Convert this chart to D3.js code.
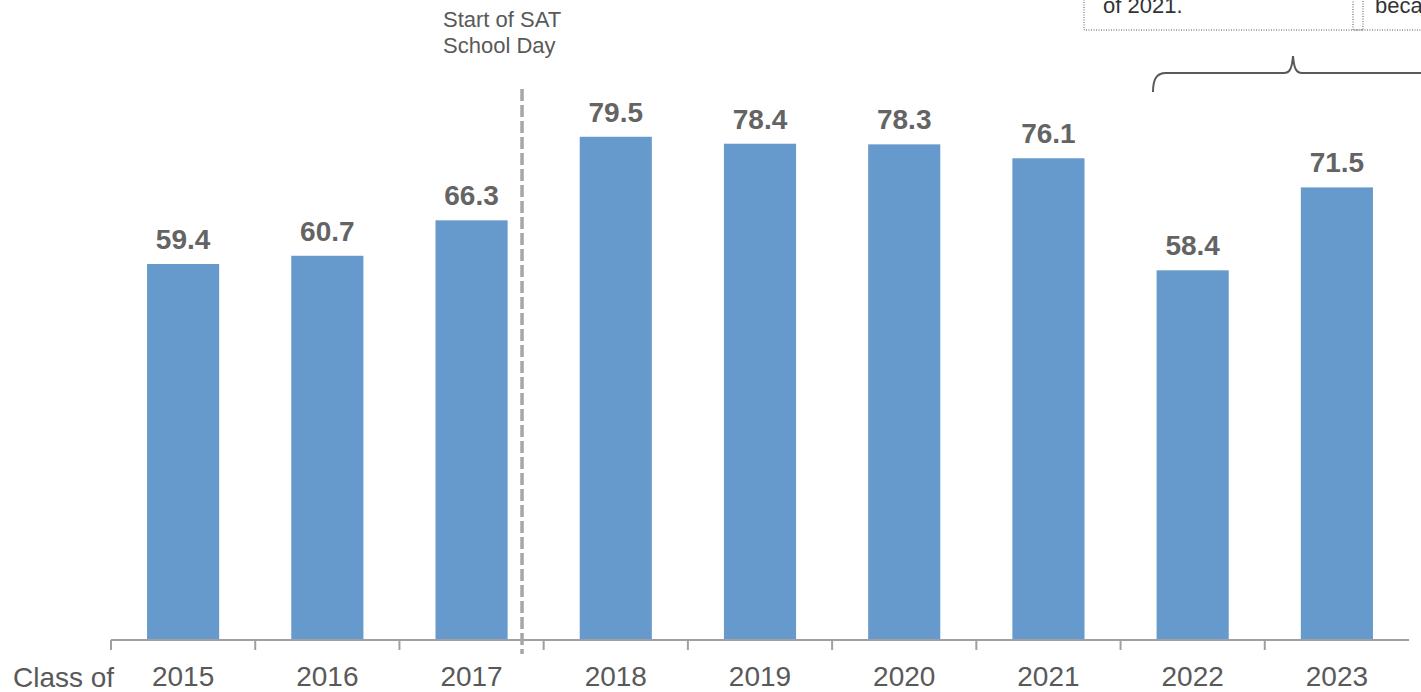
<!DOCTYPE html>
<html>
<head>
<meta charset="utf-8">
<script src="https://cdn.jsdelivr.net/npm/d3@7"></script>
<style>
  body { margin: 0; background: #fff; }
  svg { display: block; font-family: "Liberation Sans", Arial, sans-serif; }
</style>
</head>
<body>
<div id="chart"></div>
<script>
// chart data
var years = ["2015", "2016", "2017", "2018", "2019", "2020", "2021", "2022", "2023"];
var values = [59.4, 60.7, 66.3, 79.5, 78.4, 78.3, 76.1, 58.4, 71.5];
var yDomain = [0, 100];

var width = 1421,
    height = 692;

var svg = d3.select("#chart")
    .append("svg")
    .attr("width", width)
    .attr("height", height);

let x = d3.scaleBand()
    .domain(years)
    .range([111, 1409])
    .paddingInner(0.5)
    .paddingOuter(0.25);

let y = d3.scaleLinear()
    .domain(yDomain)
    .range([640, 7]);

var grey = "#595959";

// bars
svg.append("g").selectAll("rect")
    .data(values)
    .enter()
    .append("rect")
    .attr("x", (d, i) => x(years[i]))
    .attr("y", d => y(d))
    .attr("width", x.bandwidth())
    .attr("height", d => y(0) - y(d))
    .attr("fill", "#6699cc");

// value labels
svg.append("g").selectAll("text")
    .data(values)
    .enter()
    .append("text")
    .attr("x", (d, i) => x(years[i]) + x.bandwidth() / 2)
    .attr("y", d => y(d) - 15)
    .style("text-anchor", "middle")
    .style("font-size", "28px")
    .style("font-weight", "bold")
    .attr("fill", "#646464")
    .text(d => d.toFixed(1));

// x axis line and ticks at band boundaries
var step = x.step();
var axis = svg.append("g");
axis.append("line")
    .attr("x1", x(years[0]) - step * 0.25)
    .attr("x2", x(years[years.length - 1]) + x.bandwidth() + step * 0.25)
    .attr("y1", y(0))
    .attr("y2", y(0))
    .attr("stroke", "#a0a0a0")
    .attr("stroke-width", 2);

axis.selectAll(".tick")
    .data(years)
    .enter()
    .append("line")
    .attr("x1", d => x(d) - step * 0.25)
    .attr("x2", d => x(d) - step * 0.25)
    .attr("y1", y(0))
    .attr("y2", y(0) + 10)
    .attr("stroke", "#a0a0a0")
    .attr("stroke-width", 2);

axis.selectAll(".lbl")
    .data(years)
    .enter()
    .append("text")
    .attr("x", d => x(d) + x.bandwidth() / 2)
    .attr("y", 686)
    .style("text-anchor", "middle")
    .style("font-size", "28px")
    .attr("fill", grey)
    .text(d => d);

svg.append("text")
    .attr("x", 13)
    .attr("y", 687)
    .style("font-size", "28px")
    .attr("fill", grey)
    .text("Class of");

// dashed separator between 2017 and 2018
var sepX = x("2017") + x.bandwidth() + step * 0.1;
svg.append("line")
    .attr("x1", sepX)
    .attr("x2", sepX)
    .attr("y1", 89)
    .attr("y2", 654)
    .attr("stroke", "#a6a6a6")
    .attr("stroke-width", 3.5)
    .attr("stroke-dasharray", "12,4");

svg.append("text")
    .attr("x", 443)
    .attr("y", 27)
    .style("font-size", "22px")
    .attr("fill", grey)
    .text("Start of SAT");
svg.append("text")
    .attr("x", 443)
    .attr("y", 53)
    .style("font-size", "22px")
    .attr("fill", grey)
    .text("School Day");

// cut-off note boxes at top right
svg.append("rect")
    .attr("x", 1084)
    .attr("y", -10)
    .attr("width", 279)
    .attr("height", 40)
    .attr("fill", "none")
    .attr("stroke", "#555")
    .attr("stroke-width", 1)
    .attr("stroke-dasharray", "1,1.5");
svg.append("rect")
    .attr("x", 1353)
    .attr("y", -10)
    .attr("width", 90)
    .attr("height", 40)
    .attr("fill", "none")
    .attr("stroke", "#555")
    .attr("stroke-width", 1)
    .attr("stroke-dasharray", "1,1.5");
svg.append("text")
    .attr("x", 1103)
    .attr("y", 13)
    .style("font-size", "22px")
    .attr("fill", "#333")
    .text("of 2021.");
svg.append("text")
    .attr("x", 1375)
    .attr("y", 13)
    .style("font-size", "22px")
    .attr("fill", "#333")
    .text("beca");

// brace over 2022-2023
svg.append("path")
    .attr("d", "M1153,92 C1153,80 1156,73 1166,73 L1284,73 C1290,73 1292,68 1293,56 C1294,68 1296,73 1302,73 L1430,73")
    .attr("fill", "none")
    .attr("stroke", grey)
    .attr("stroke-width", 2);
</script>
</body>
</html>
